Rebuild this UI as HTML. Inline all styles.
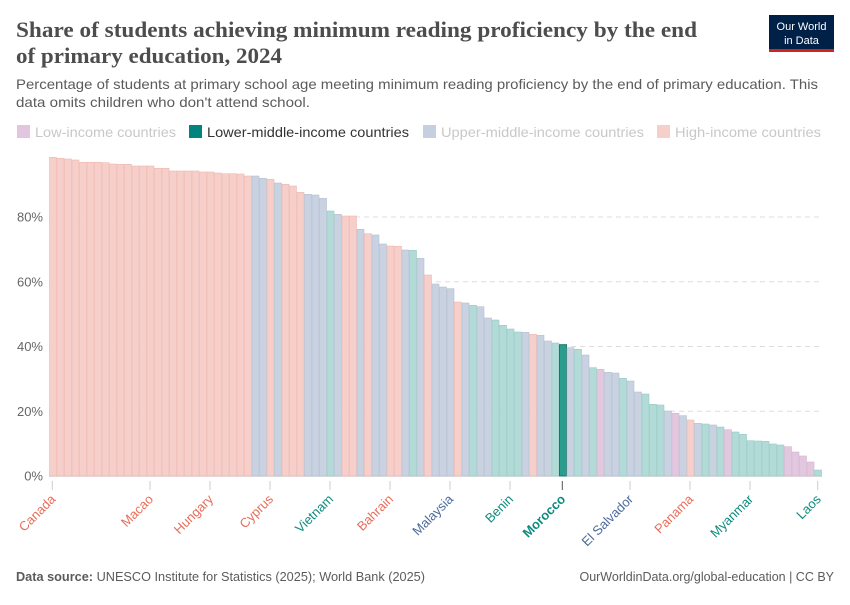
<!DOCTYPE html>
<html><head><meta charset="utf-8"><style>
body{margin:0;background:#fff;width:850px;height:600px;overflow:hidden;font-family:"Liberation Sans",sans-serif}
</style></head><body>
<svg id="s" width="850" height="600" xmlns="http://www.w3.org/2000/svg" font-family="Liberation Sans, sans-serif">
<text x="16" y="37" font-family="Liberation Serif, serif" font-size="22.5" font-weight="bold" fill="#4d4d4d" textLength="681" lengthAdjust="spacingAndGlyphs">Share of students achieving minimum reading proficiency by the end</text>
<text x="16" y="63" font-family="Liberation Serif, serif" font-size="22.5" font-weight="bold" fill="#4d4d4d" textLength="266" lengthAdjust="spacingAndGlyphs">of primary education, 2024</text>
<rect x="769" y="15" width="65" height="36" fill="#002147"/>
<rect x="769" y="49" width="65" height="3" fill="#ce261e"/>
<text x="801.5" y="30" font-size="11" fill="#fff" text-anchor="middle">Our World</text>
<text x="801.5" y="44" font-size="11" fill="#fff" text-anchor="middle">in Data</text>
<text x="16" y="89" font-size="14" fill="#5b5b5b" textLength="802" lengthAdjust="spacingAndGlyphs">Percentage of students at primary school age meeting minimum reading proficiency by the end of primary education. This</text>
<text x="16" y="107" font-size="14" fill="#5b5b5b" textLength="294" lengthAdjust="spacingAndGlyphs">data omits children who don't attend school.</text>
<rect x="17" y="125" width="13" height="13" fill="#e2c6df"/><text x="35" y="137" font-size="14" fill="#c8c8c8" textLength="141" lengthAdjust="spacingAndGlyphs">Low-income countries</text>
<rect x="189" y="125" width="13" height="13" fill="#00847e"/><text x="207" y="137" font-size="14" fill="#333" textLength="202" lengthAdjust="spacingAndGlyphs">Lower-middle-income countries</text>
<rect x="423" y="125" width="13" height="13" fill="#c6cfdf"/><text x="441" y="137" font-size="14" fill="#c8c8c8" textLength="203" lengthAdjust="spacingAndGlyphs">Upper-middle-income countries</text>
<rect x="657" y="125" width="13" height="13" fill="#f6cfca"/><text x="675" y="137" font-size="14" fill="#c8c8c8" textLength="146" lengthAdjust="spacingAndGlyphs">High-income countries</text>
<g id="grid"></g><g id="bars"></g><g id="lab"></g>
<text x="16" y="581" font-size="12.5" fill="#5b5b5b" textLength="409" lengthAdjust="spacingAndGlyphs"><tspan font-weight="bold">Data source:</tspan> UNESCO Institute for Statistics (2025); World Bank (2025)</text>
<text x="834" y="581" font-size="12.5" fill="#5b5b5b" text-anchor="end">OurWorldinData.org/global-education | CC BY</text>
</svg>
<script>
var P='p',B='b',G='g',U='u',M='m';
var d=[[P,157.3],[P,158.3],[P,159],[P,160],[P,162.3],[P,162.3],[P,162.3],[P,162.7],[P,164],[P,164.3],[P,164.3],[P,166],[P,166],[P,166],[P,168.3],[P,168.3],[P,171],[P,171],[P,171],[P,171],[P,172],[P,172],[P,173],[P,173.7],[P,173.7],[P,174],[P,176],
[B,176],[B,178.3],[P,179.3],[B,183],[P,184.3],[P,186],[P,192.3],[B,194.3],[B,195],[B,198.3],[G,211],[B,214.3],[P,216],[P,216],[B,229.3],[P,233.7],[B,235],[B,244],[P,246],[P,246.3],[B,250],[G,250.3],[B,258.3],[P,275],[B,284],[B,287],[B,288.7],[P,302],[B,303],[G,305.3],[B,306.7],[B,318],[G,320],[G,325.3],[G,329],[G,332],[B,332.3],[P,334.3],[B,335.3],[B,341],[G,343],[M,344.7],[B,347.7],[G,349.3],
[B,355],[G,367.7],[U,369.3],[B,372.3],[B,373],[G,378.3],[B,381],[B,392],[G,394],[G,404.3],[G,405],[B,411],[U,413.3],[B,415.7],[P,420],[B,423.3],[G,424],[B,425],[G,427],[U,429.7],[G,432],[G,434.3],[G,440.7],[G,441],[G,441.3],[G,444],[G,445],[U,446.7],[U,452],[U,456],[U,462],[G,470]];
var fill={p:'#f6cfca',b:'#c9d2e0',g:'#b2dad7',u:'#e2c8df',m:'#2a9d8f'},st={p:'#f0b8b0',b:'#b6c0d3',g:'#96ccc6',u:'#d7b4d3',m:'#18786c'};
var ns='http://www.w3.org/2000/svg';
function el(t,a,p,txt){var e=document.createElementNS(ns,t);for(var k in a)e.setAttribute(k,a[k]);if(txt)e.textContent=txt;document.getElementById(p).appendChild(e);return e;}
var ys=[476,411.3,346.5,281.8,217],lb=['0%','20%','40%','60%','80%'];
for(var i=0;i<5;i++){if(i>0)el('line',{x1:49,x2:822,y1:ys[i],y2:ys[i],stroke:'#ddd','stroke-dasharray':'5,4'},'grid');el('text',{x:43,y:ys[i]+4.5,'font-size':13,fill:'#666','text-anchor':'end'},'grid',lb[i]);}
d.forEach(function(b,i){var x=49+i*7.5;el('rect',{x:x+0.5,y:b[1],width:7,height:476-b[1],fill:fill[b[0]],stroke:st[b[0]],'stroke-width':b[0]=='m'?1:0.6},'bars');});
el('line',{x1:49,x2:822,y1:476,y2:476,stroke:'#999'},'grid');
var L=[['Canada',52.3,'#e56e5a'],['Macao',150,'#e56e5a'],['Hungary',210,'#e56e5a'],['Cyprus',270,'#e56e5a'],['Vietnam',330,'#0f8a7e'],['Bahrain',390,'#e56e5a'],['Malaysia',450,'#4c6a9c'],['Benin',510,'#0f8a7e'],['Morocco',562.3,'#0f8a7e',1],['El Salvador',630,'#4c6a9c'],['Panama',690,'#e56e5a'],['Myanmar',750,'#0f8a7e'],['Laos',817.7,'#0f8a7e']];
L.forEach(function(l){el('line',{x1:l[1],x2:l[1],y1:481,y2:490,stroke:l[3]?'#555':'#ccc'},'lab');
var t=el('text',{x:l[1]+4,y:500,'font-size':13,fill:l[2],'text-anchor':'end','font-weight':l[3]?'bold':'normal',transform:'rotate(-45 '+(l[1]+4)+' 500)'},'lab',l[0]);});
</script>
</body></html>
